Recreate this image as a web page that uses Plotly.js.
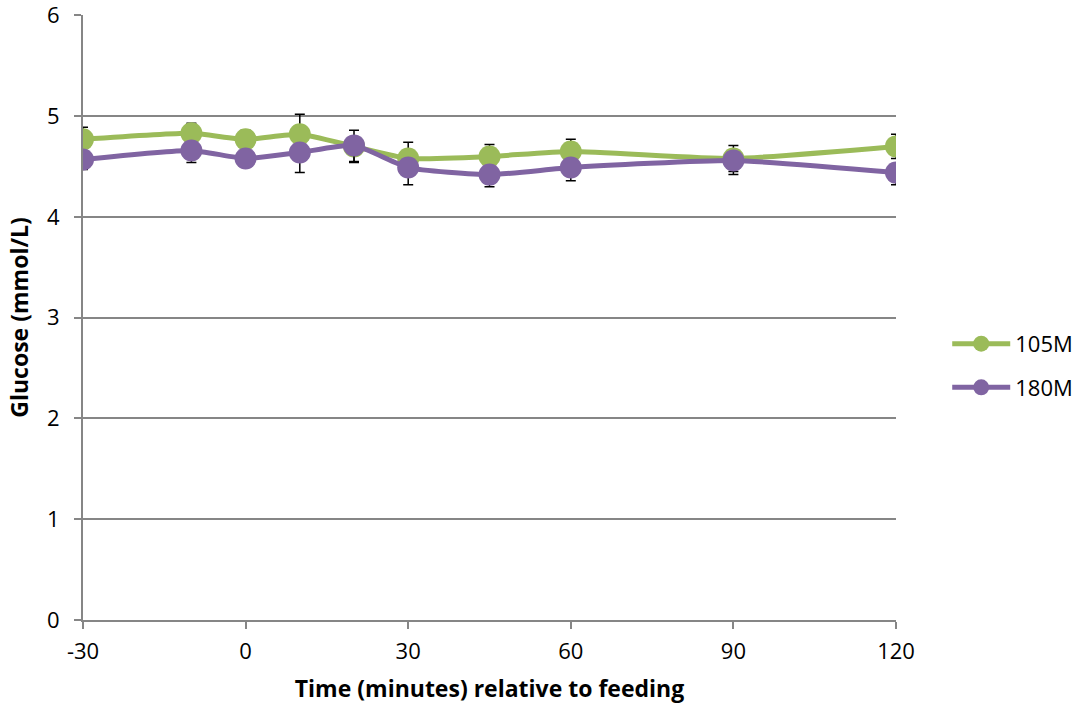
<!DOCTYPE html>
<html>
<head>
<meta charset="utf-8">
<script src="https://cdn.plot.ly/plotly-3.0.1.min.js"></script>
<style>html,body{margin:0;padding:0;background:#fff;}#chart{width:1086px;height:710px;}</style>
</head>
<body>
<div id="chart"></div>
<script>
const times = [-30, -10, 0, 10, 20, 30, 45, 60, 90, 120];
const glucose105M = [4.77, 4.83, 4.77, 4.82, 4.70, 4.58, 4.60, 4.65, 4.58, 4.70];
const err105M = [0.12, 0.10, 0.09, 0.20, 0.16, 0.16, 0.12, 0.12, 0.13, 0.12];
const glucose180M = [4.57, 4.66, 4.58, 4.64, 4.71, 4.49, 4.42, 4.49, 4.56, 4.44];
const err180M = [0.10, 0.12, 0.08, 0.20, 0.16, 0.17, 0.12, 0.13, 0.14, 0.12];
const zeros180M = err180M.map(() => 0);
const xTicks = [-30, 0, 30, 60, 90, 120];
const yTicks = [0, 1, 2, 3, 4, 5, 6];

const FONT = '"Open Sans", "Liberation Sans", sans-serif';

const traces = [
  {
    x: times, y: glucose105M, name: '105M', type: 'scatter', mode: 'lines+markers',
    line: {color: '#9BBB59', width: 5, shape: 'spline', smoothing: 0.5},
    marker: {color: '#9BBB59', size: 22},
    error_y: {type: 'data', array: err105M, symmetric: true, color: '#000', thickness: 1.5, width: 5},
    legendgroup: 'a'
  },
  {
    x: times, y: glucose180M, name: '180M', type: 'scatter', mode: 'lines+markers',
    line: {color: '#8064A2', width: 5, shape: 'spline', smoothing: 0.5},
    marker: {color: '#8064A2', size: 22},
    error_y: {type: 'data', array: zeros180M, arrayminus: err180M, symmetric: false, color: '#000', thickness: 1.5, width: 5},
    legendgroup: 'b'
  }
];

const layout = {
  width: 1086, height: 710,
  margin: {l: 83, r: 190, t: 15, b: 90, autoexpand: false},
  paper_bgcolor: '#fff', plot_bgcolor: '#fff',
  font: {family: FONT, size: 22, color: '#000'},
  showlegend: true,
  legend: {
    x: 1.063, y: 0.42, xanchor: 'left', yanchor: 'middle',
    font: {family: FONT, size: 22, color: '#000'},
    traceorder: 'grouped', tracegroupgap: 12,
    itemwidth: 58
  },
  xaxis: {
    range: [-30, 120], tickvals: xTicks, ticktext: xTicks.map(String),
    showgrid: false, zeroline: false,
    showline: true, linecolor: '#868686', linewidth: 2,
    ticks: 'outside', ticklen: 7, tickcolor: '#868686', tickwidth: 2,
    tickfont: {family: FONT, size: 22},
    ticklabelstandoff: 4,
    title: {text: '<b>Time (minutes) relative to feeding</b>', font: {family: FONT, size: 23}, standoff: 16}
  },
  yaxis: {
    range: [0, 6.004], tickvals: yTicks, ticktext: yTicks.map(String),
    showgrid: true, gridcolor: '#868686', gridwidth: 2, zeroline: false,
    showline: true, linecolor: '#868686', linewidth: 2,
    ticks: 'outside', ticklen: 7, tickcolor: '#868686', tickwidth: 2,
    tickfont: {family: FONT, size: 22},
    ticklabelstandoff: 10, ticklabeloverflow: 'allow',
    title: {text: '<b>Glucose (mmol/L)</b>', font: {family: FONT, size: 23}, standoff: 12}
  }
};

Plotly.newPlot('chart', traces, layout, {displayModeBar: false, staticPlot: true});
</script>
</body>
</html>
